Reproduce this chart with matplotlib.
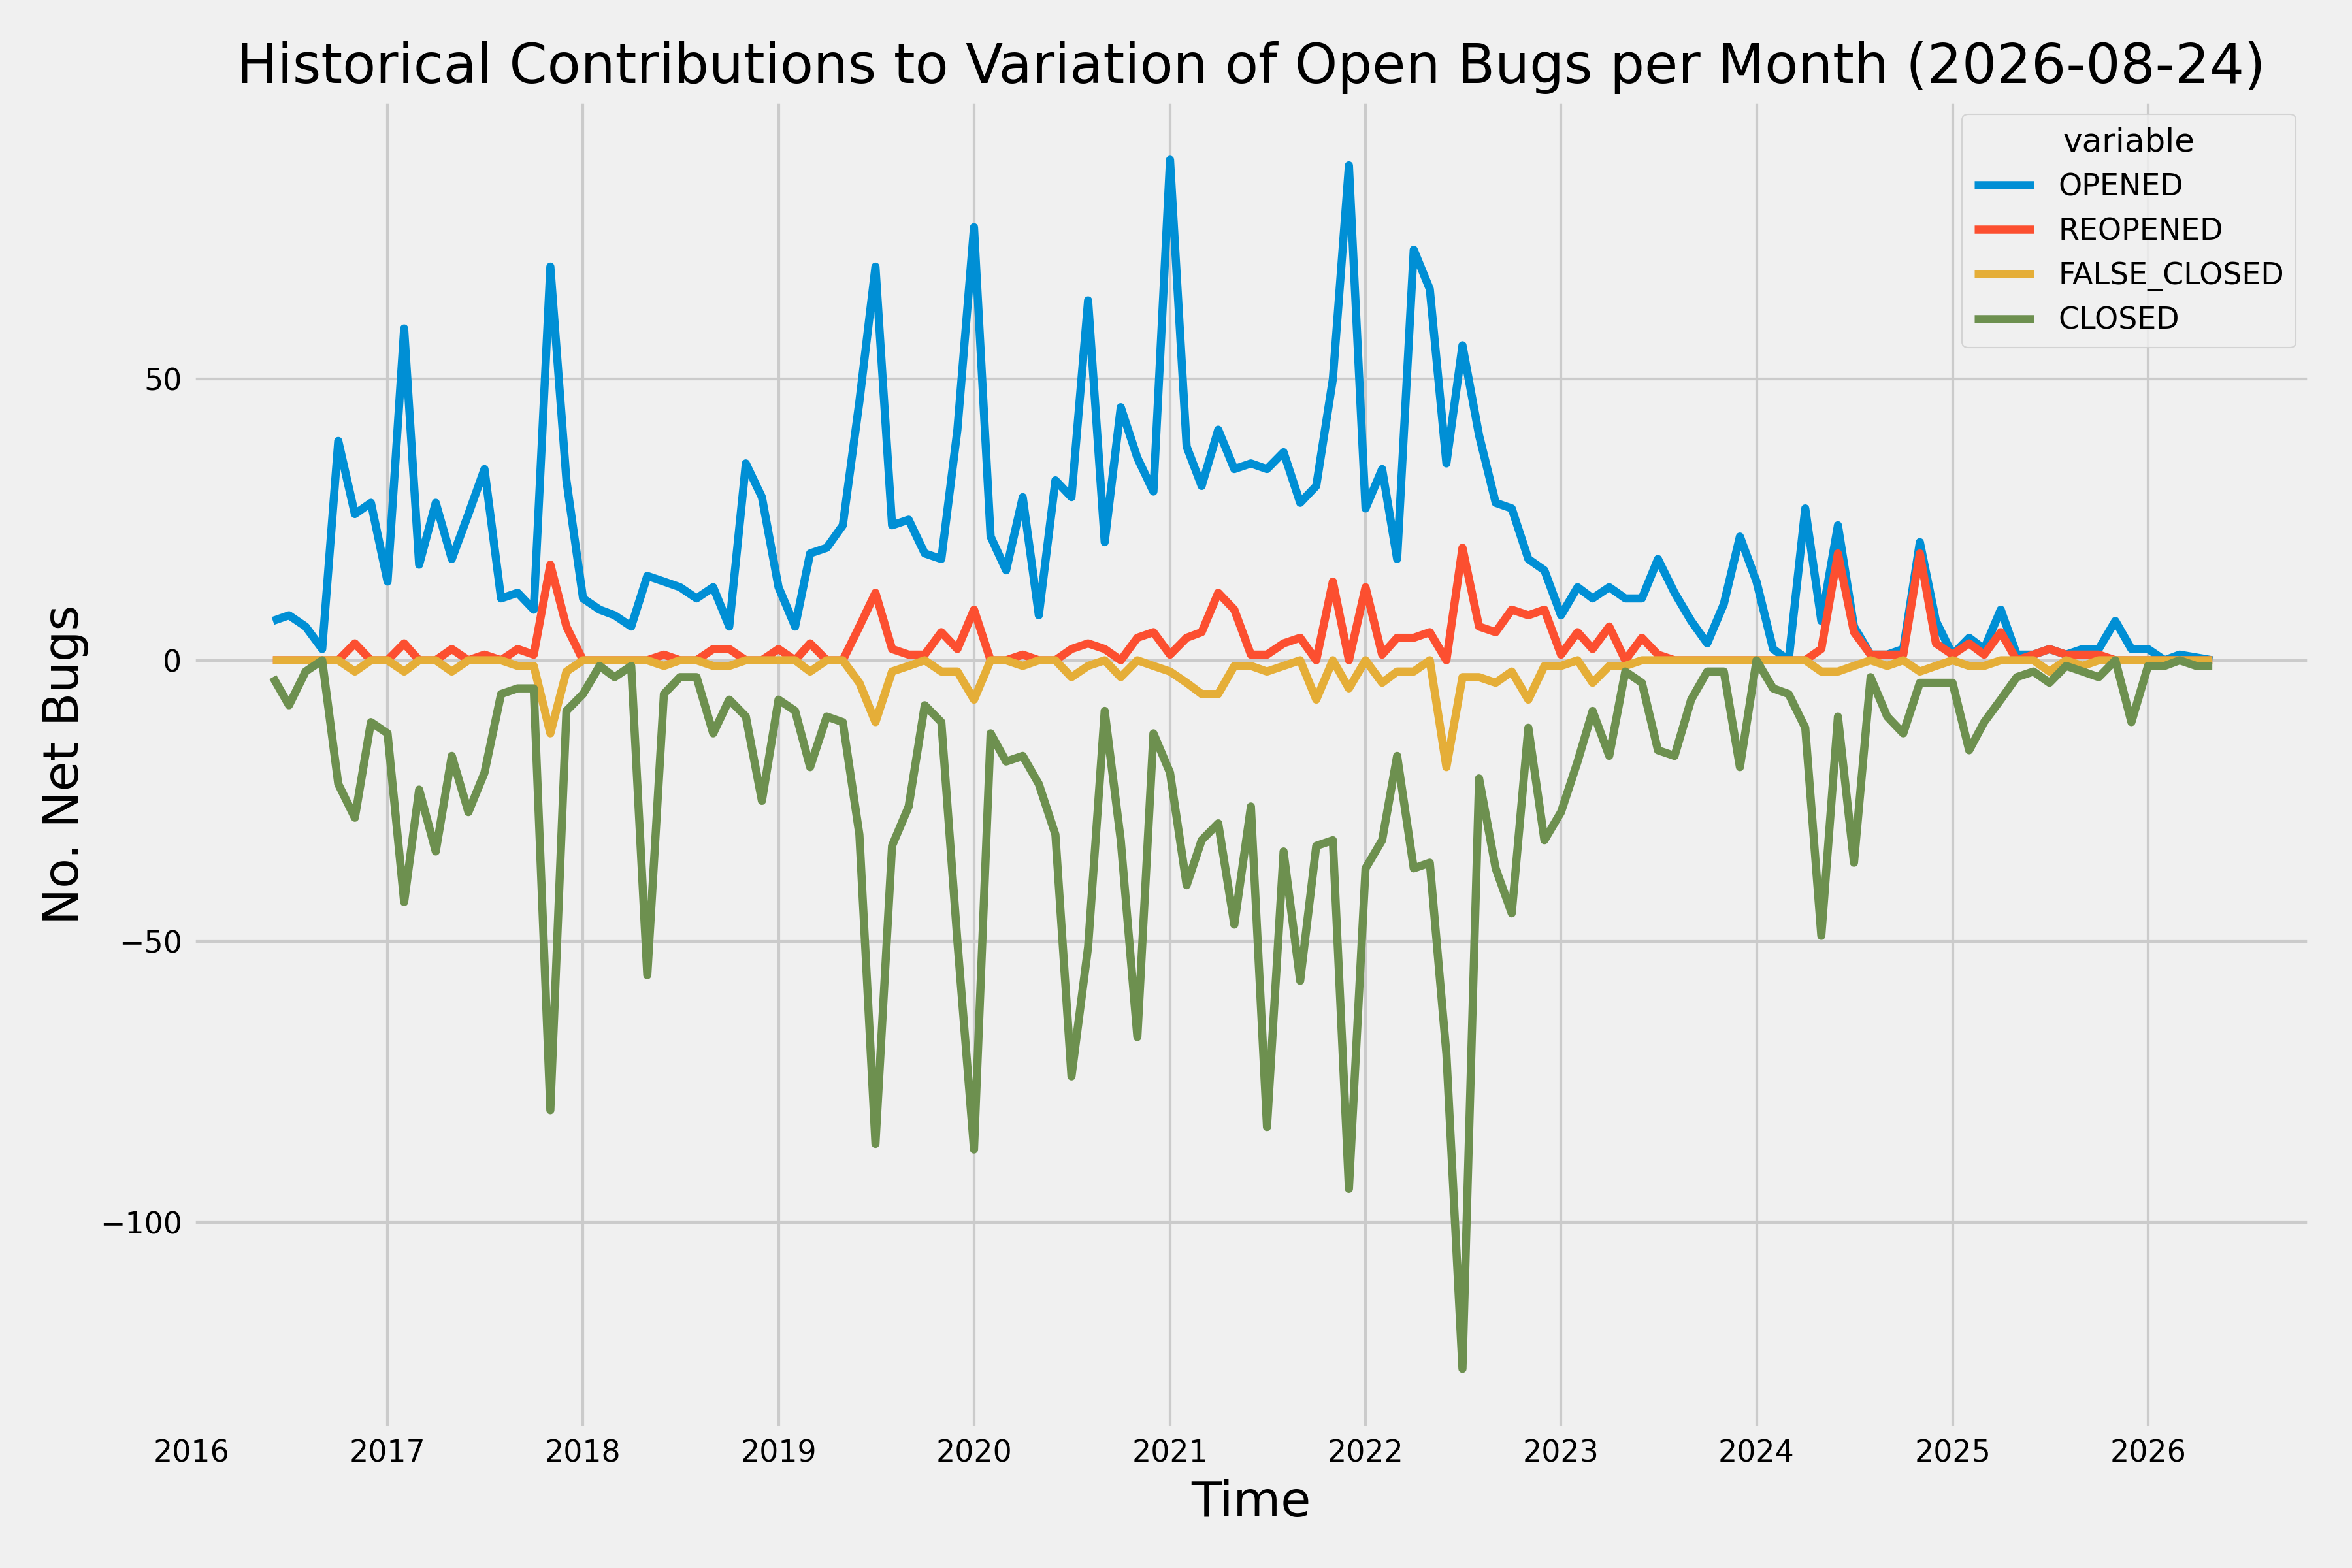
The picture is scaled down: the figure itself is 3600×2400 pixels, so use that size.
import matplotlib
matplotlib.use("Agg")
import matplotlib.pyplot as plt
import matplotlib.dates as mdates
import pandas as pd

months = pd.date_range("2016-06-01", "2026-05-01", freq="MS")

opened = [7, 8, 6, 2, 39, 26, 28,
          14, 59, 17, 28, 18, 26, 34, 11, 12, 9, 70, 32,
          11, 9, 8, 6, 15, 14, 13, 11, 13, 6, 35, 29,
          13, 6, 19, 20, 24, 46, 70, 24, 25, 19, 18, 41,
          77, 22, 16, 29, 8, 32, 29, 64, 21, 45, 36, 30,
          89, 38, 31, 41, 34, 35, 34, 37, 28, 31, 50, 88,
          27, 34, 18, 73, 66, 35, 56, 40, 28, 27, 18, 16,
          8, 13, 11, 13, 11, 11, 18, 12, 7, 3, 10, 22,
          14, 2, 0, 27, 7, 24, 6, 1, 1, 2, 21, 7,
          1, 4, 2, 9, 1, 1, 2, 1, 2, 2, 7, 2,
          2, 0, 1, 0.5, 0]
reopened = [0, 0, 0, 0, 0, 3, 0,
            0, 3, 0, 0, 2, 0, 1, 0, 2, 1, 17, 6,
            0, 0, 0, 0, 0, 1, 0, 0, 2, 2, 0, 0,
            2, 0, 3, 0, 0, 6, 12, 2, 1, 1, 5, 2,
            9, 0, 0, 1, 0, 0, 2, 3, 2, 0, 4, 5,
            1, 4, 5, 12, 9, 1, 1, 3, 4, 0, 14, 0,
            13, 1, 4, 4, 5, 0, 20, 6, 5, 9, 8, 9,
            1, 5, 2, 6, 0, 4, 1, 0, 0, 0, 0, 0,
            0, 0, 0, 0, 2, 19, 5, 1, 1, 1, 19, 3,
            1, 3, 1, 5, 0, 1, 2, 1, 1, 1, 0, 0,
            0, 0, 0, 0, 0]
false_closed = [0, 0, 0, 0, 0, -2, 0,
                0, -2, 0, 0, -2, 0, 0, 0, -1, -1, -13, -2,
                0, 0, 0, 0, 0, -1, 0, 0, -1, -1, 0, 0,
                0, 0, -2, 0, 0, -4, -11, -2, -1, 0, -2, -2,
                -7, 0, 0, -1, 0, 0, -3, -1, 0, -3, 0, -1,
                -2, -4, -6, -6, -1, -1, -2, -1, 0, -7, 0, -5,
                0, -4, -2, -2, 0, -19, -3, -3, -4, -2, -7, -1,
                -1, 0, -4, -1, -1, 0, 0, 0, 0, 0, 0, 0,
                0, 0, 0, 0, -2, -2, -1, 0, -1, 0, -2, -1,
                0, -1, -1, 0, 0, 0, -2, 0, -1, 0, 0, 0,
                0, 0, 0, 0, 0]
closed = [-3, -8, -2, 0, -22, -28, -11,
          -13, -43, -23, -34, -17, -27, -20, -6, -5, -5, -80, -9,
          -6, -1, -3, -1, -56, -6, -3, -3, -13, -7, -10, -25,
          -7, -9, -19, -10, -11, -31, -86, -33, -26, -8, -11, -50,
          -87, -13, -18, -17, -22, -31, -74, -51, -9, -32, -67, -13,
          -20, -40, -32, -29, -47, -26, -83, -34, -57, -33, -32, -94,
          -37, -32, -17, -37, -36, -70, -126, -21, -37, -45, -12, -32,
          -27, -18, -9, -17, -2, -4, -16, -17, -7, -2, -2, -19,
          0, -5, -6, -12, -49, -10, -36, -3, -10, -13, -4, -4,
          -4, -16, -11, -7, -3, -2, -4, -1, -2, -3, 0, -11,
          -1, -1, 0, -1, -1]

plt.style.use("fivethirtyeight")
fig, ax = plt.subplots(figsize=(12, 8), dpi=300)
fig.patch.set_facecolor("#f0f0f0")

ax.plot(months, opened, label="OPENED", color="#008fd5", lw=3)
ax.plot(months, reopened, label="REOPENED", color="#fc4f30", lw=3)
ax.plot(months, false_closed, label="FALSE_CLOSED", color="#e5ae38", lw=3)
ax.plot(months, closed, label="CLOSED", color="#6d904f", lw=3)

ax.set_xlim(pd.Timestamp("2016-01-01"), pd.Timestamp("2026-11-01"))
ax.xaxis.set_major_locator(mdates.YearLocator())
ax.xaxis.set_major_formatter(mdates.DateFormatter("%Y"))
ax.tick_params(labelsize=11)
ax.set_yticks([-100, -50, 0, 50])

ax.set_title("Historical Contributions to Variation of Open Bugs per Month (2026-08-24)", fontsize=20)
ax.set_xlabel("Time", fontsize=18)
ax.set_ylabel("No. Net Bugs", fontsize=18)
ax.legend(title="variable", loc="upper right", fontsize=11, title_fontsize=12)

fig.tight_layout()
fig.savefig("out.png", dpi=300)
